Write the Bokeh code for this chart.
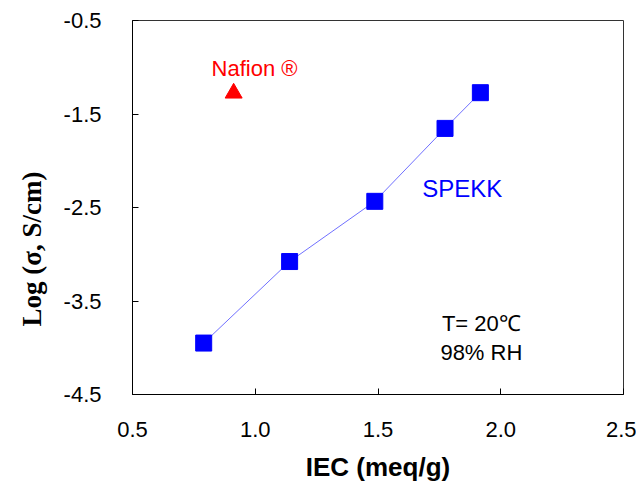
from bokeh.plotting import figure
from bokeh.models import Range1d, FixedTicker, Label, Title
from bokeh.embed import file_html
from bokeh.resources import INLINE

# Data
spekk_iec = [0.79, 1.14, 1.487, 1.773, 1.917]
spekk_log = [-3.95, -3.078, -2.434, -1.654, -1.272]
nafion_iec = [0.912]
nafion_log = [-1.277]
x_ticks = [0.5, 1.0, 1.5, 2.0, 2.5]
x_tick_labels = ["0.5", "1.0", "1.5", "2.0", "2.5"]
y_ticks = [-4.5, -3.5, -2.5, -1.5, -0.5]
y_tick_labels = ["-4.5", "-3.5", "-2.5", "-1.5", "-0.5"]

FONT = "Liberation Sans"

p = figure(width=636, height=484, output_backend="svg", toolbar_location=None,
           x_range=Range1d(0.5, 2.5), y_range=Range1d(-4.5, -0.5),
           min_border_left=128, min_border_right=13, min_border_top=20, min_border_bottom=90)
p.background_fill_color = "white"
p.border_fill_color = "white"
p.outline_line_color = "#333333"
p.outline_line_width = 1
p.xgrid.visible = False
p.ygrid.visible = False

p.line(spekk_iec, spekk_log, line_color="#7070ff", line_width=1)
p.scatter(spekk_iec, spekk_log, marker="square", size=16, fill_color="#0000ff", line_color="#0000ff")
p.scatter(nafion_iec, nafion_log, marker="triangle", size=17, fill_color="#ff0000", line_color="#ff0000")

for ax, ticks, labels in ((p.xaxis[0], x_ticks, x_tick_labels), (p.yaxis[0], y_ticks, y_tick_labels)):
    ax.ticker = FixedTicker(ticks=ticks)
    ax.major_label_overrides = {t: l for t, l in zip(ticks, labels)}
    ax.minor_tick_line_color = None
    ax.major_tick_in = 6
    ax.major_tick_out = 0
    ax.axis_line_color = "black"
    ax.major_tick_line_color = "black"
    ax.major_label_text_font = FONT
    ax.major_label_text_font_size = "22px"
    ax.major_label_text_color = "black"
    ax.major_label_text_font_style = "normal"

p.xaxis.major_label_standoff = 27
p.yaxis.major_label_standoff = 31

p.xaxis.axis_label = "IEC (meq/g)"
p.xaxis.axis_label_text_font = FONT
p.xaxis.axis_label_text_font_style = "bold"
p.xaxis.axis_label_text_font_size = "26px"
p.xaxis.axis_label_text_color = "black"
p.xaxis.axis_label_standoff = 12

# y-axis title sits below the axis centre in the reference
ytitle = Title(text="Log (σ, S/cm)", align="left", offset=68, standoff=28,
               text_font="Liberation Serif", text_font_style="bold", text_font_size="27px",
               text_color="black")
p.add_layout(ytitle, "left")

p.add_layout(Label(x=0.997, y=-1.01, text="Nafion ®", text_color="#ff0000",
                   text_font=FONT, text_font_size="22px", text_align="center", text_baseline="middle"))
p.add_layout(Label(x=1.843, y=-2.293, text="SPEKK", text_color="#0000ff",
                   text_font=FONT, text_font_size="24px", text_align="center", text_baseline="middle"))
p.add_layout(Label(x=1.921, y=-3.74, text="T= 20℃", text_color="black",
                   text_font=FONT, text_font_size="22px", text_align="center", text_baseline="middle"))
p.add_layout(Label(x=1.921, y=-4.05, text="98% RH", text_color="black",
                   text_font=FONT, text_font_size="22px", text_align="center", text_baseline="middle"))

open("out.html", "w").write(file_html(p, INLINE))
